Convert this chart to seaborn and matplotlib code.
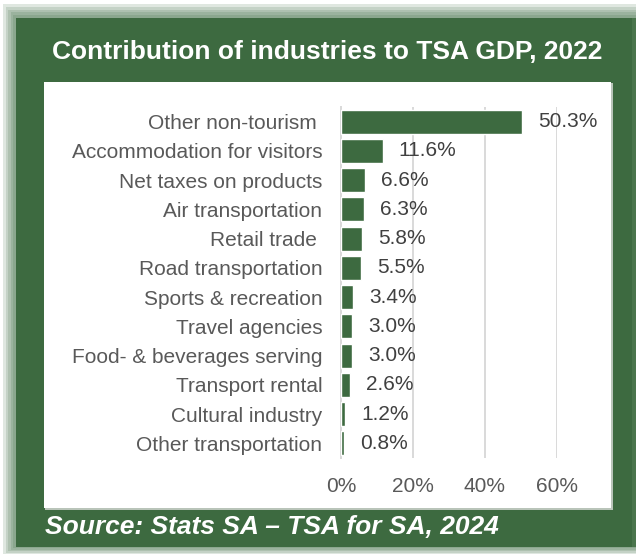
import matplotlib
matplotlib.use("Agg")
import matplotlib.pyplot as plt
from matplotlib.patches import Rectangle
import pandas as pd
import seaborn as sns

industries = [
    "Other non-tourism ",
    "Accommodation for visitors",
    "Net taxes on products",
    "Air transportation",
    "Retail trade ",
    "Road transportation",
    "Sports & recreation",
    "Travel agencies",
    "Food- & beverages serving",
    "Transport rental",
    "Cultural industry",
    "Other transportation",
]
shares = [50.3, 11.6, 6.6, 6.3, 5.8, 5.5, 3.4, 3.0, 3.0, 2.6, 1.2, 0.8]
x_ticks = [0, 20, 40, 60]
x_tick_labels = ["0%", "20%", "40%", "60%"]

title = "Contribution of industries to TSA GDP, 2022"
source = "Source: Stats SA \u2013 TSA for SA, 2024"

GREEN = "#3d6a40"
LABEL_GREY = "#595959"
VALUE_GREY = "#404040"
GRID_GREY = "#d9d9d9"

sns.set_theme(style="white")
plt.rcParams["font.family"] = ["Liberation Sans", "DejaVu Sans"]

W, H = 636, 554
fig = plt.figure(figsize=(W / 100, H / 100), dpi=100)
fig.patch.set_facecolor("white")


def px_rect(x0, y0, x1, y1, **kw):
    """Rectangle given in pixel coordinates measured from the top-left corner."""
    r = Rectangle((x0 / W, 1 - y1 / H), (x1 - x0) / W, (y1 - y0) / H,
                  transform=fig.transFigure, linewidth=0, **kw)
    fig.patches.append(r)
    return r


# soft shadow around the green frame
for k in range(5, 0, -1):
    px_rect(16 - 2.6 * k, 18 - 2.8 * k, 636, 547 + 1.4 * k,
            facecolor=GREEN, alpha=0.16, zorder=0)
px_rect(16, 18, 632, 547, facecolor=GREEN, zorder=1)
px_rect(632, 18, 636, 547, facecolor="#4a754c", zorder=1)

# white inner panel with a faint edge shadow
px_rect(45, 83, 613, 510, facecolor="#b9c4b9", zorder=2)
px_rect(44, 82, 611, 508, facecolor="white", zorder=3)

fig.text(327 / W, 1 - 52 / H, title, color="white", fontsize=19,
         fontweight="bold", ha="center", va="center", zorder=5)
fig.text(45 / W, 1 - 527 / H, source, color="white", fontsize=19,
         fontweight="bold", style="italic", ha="left", va="center", zorder=5)

df = pd.DataFrame({"industry": industries, "share": shares})

ax = fig.add_axes([341 / W, 1 - 458 / H, (556.7 - 341) / W, (458 - 107) / H])
ax.set_facecolor("none")
ax.set_zorder(4)

sns.barplot(data=df, x="share", y="industry", orient="h", color=GREEN,
            saturation=1, width=0.82, ax=ax, zorder=3)

ax.set_xlim(0, 60)
ax.set_ylim(len(industries) - 0.5, -0.5)
ax.set_xticks(x_ticks)
ax.set_xticklabels(x_tick_labels)
ax.set_xlabel("")
ax.set_ylabel("")

for x in x_ticks[1:]:
    ax.axvline(x, color=GRID_GREY, linewidth=1.4, zorder=1)

for s in ["top", "right", "bottom"]:
    ax.spines[s].set_visible(False)
ax.spines["left"].set_color(GRID_GREY)
ax.spines["left"].set_linewidth(1.4)
ax.spines["left"].set_zorder(2)

ax.tick_params(axis="x", length=0, pad=13.5, labelsize=15, labelcolor=LABEL_GREY)
ax.tick_params(axis="y", length=0, pad=13.5, labelsize=15, labelcolor=LABEL_GREY)

for i, v in enumerate(shares):
    ax.annotate(f"{v:.1f}%", xy=(v, i), xytext=(11.5, 0),
                textcoords="offset points", va="center", ha="left",
                fontsize=15, color=VALUE_GREY, annotation_clip=False,
                zorder=5)

fig.savefig("out.png", dpi=100)
